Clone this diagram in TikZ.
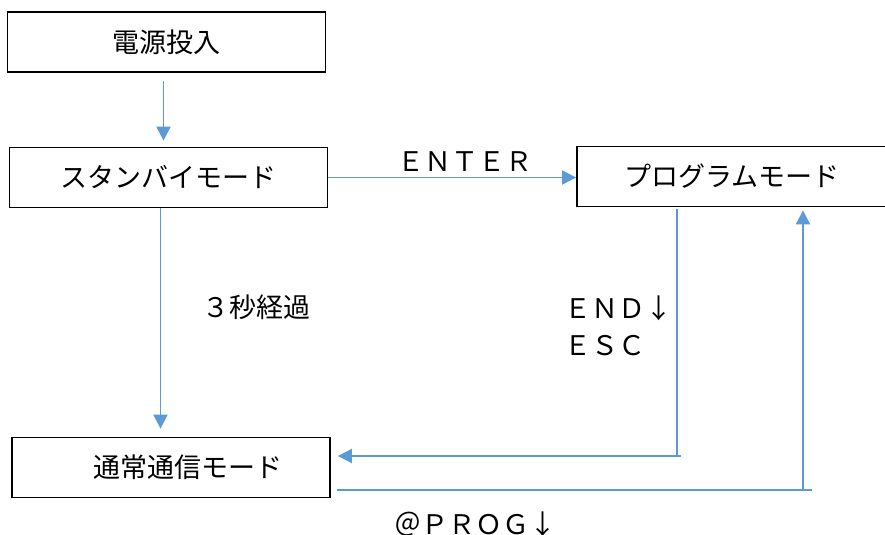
\documentclass[tikz,border=0pt]{standalone}
\usepackage{fontspec}
\newfontfamily\jpfont{Noto Sans CJK JP}
\usetikzlibrary{arrows.meta}
\definecolor{flowblue}{RGB}{91,155,213}

\begin{document}
\begin{tikzpicture}[x=0.5pt,y=-0.5pt]
    \tikzstyle{mode}=[rectangle,draw,line width=0.9pt,minimum width=159pt,minimum height=30pt,inner sep=0pt,font=\jpfont\fontsize{13.5}{16}\selectfont]
    \tikzstyle{lbl}=[inner sep=0pt,font=\jpfont\fontsize{13.5}{18.5}\selectfont]
    \tikzstyle{flow}=[flowblue,line width=0.95pt,-{Triangle[length=7pt,width=7pt]}]
    \tikzstyle{stub}=[flowblue,line width=0.95pt]

    \useasboundingbox (0,0) rectangle (885,535);

    \node(pw) [mode] at (166.5,42) {電源投入};
    \node(sb) [mode] at (168.5,177.5) {スタンバイモード};
    \node(pm) [mode,minimum width=155pt] at (732,176.5) {プログラムモード};
    \node(nc) [mode] at (171,467.5) {\hspace{17pt}通常通信モード};

    \node(enter) [lbl] at (465,162) {ＥＮＴＥＲ};
    \node(wait)  [lbl] at (256,307) {３秒経過};
    \node(esc)   [lbl,align=left,anchor=west] at (564,326) {ＥＮＤ↓\\ＥＳＣ};
    \node(prog)  [lbl] at (475,524) {＠ＰＲＯＧ↓};

    \coordinate(back) at (677,456);
    \coordinate(up)   at (803,490);

    \draw [flow,shorten <=4pt,shorten >=3pt] ([xshift=-1.5pt]pw.south) -- ([xshift=-2.5pt]sb.north);
    \draw [flow,shorten >=4pt] ([xshift=-4pt]sb.south) -- ([xshift=-4pt]sb.south |- nc.north);
    \draw [flow] (sb.east) -- (sb.east -| pm.west);
    \draw [flow,shorten <=1pt,shorten >=3.5pt] (pm.south -| back) -- (back) -- (back -| nc.east);
    \draw [stub] (back) -- ++(4,0);
    \draw [flow,shorten >=1.5pt] ([xshift=3pt]nc.east |- up) -- (up) -- (up |- pm.south);
    \draw [stub] (up) -- ++(9,0);

\end{tikzpicture}
\end{document}
